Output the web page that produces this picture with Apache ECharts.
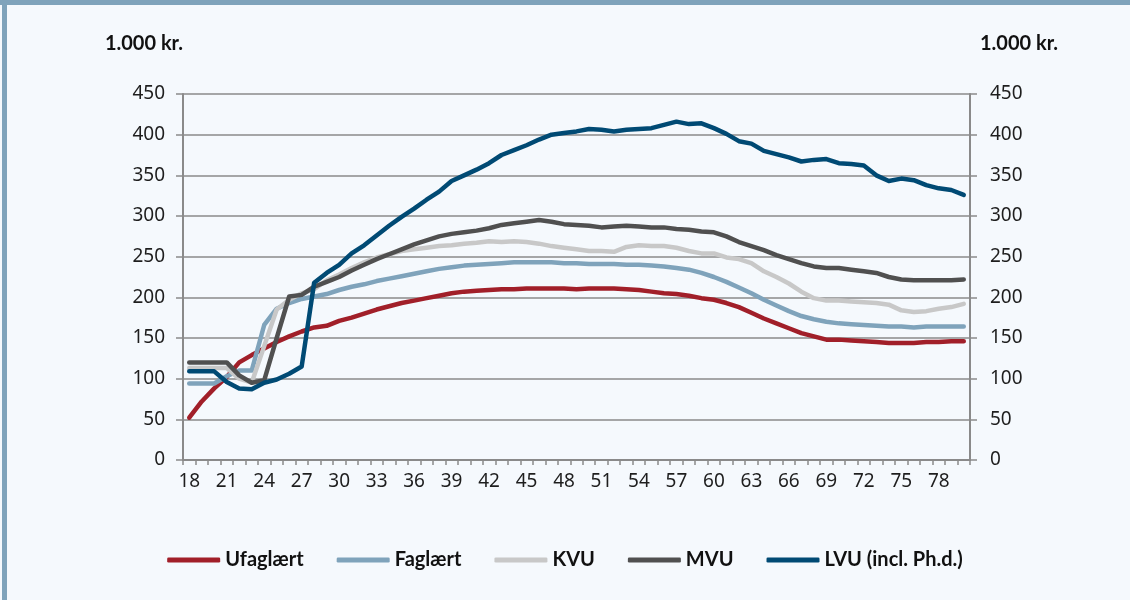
<!DOCTYPE html>
<html>
<head>
<meta charset="utf-8">
<script src="https://cdn.jsdelivr.net/npm/echarts@6/dist/echarts.min.js"></script>
<style>
  html, body { margin: 0; padding: 0; background: #f5f9fd; }
  #chart { width: 1130px; height: 600px; }
</style>
</head>
<body>
<div id="chart"></div>
<script>
// Ages 18..80
const ages = [];
for (let a = 18; a <= 80; a++) ages.push(String(a));

const seriesNames = ['Ufaglært', 'Faglært', 'KVU', 'MVU', 'LVU (incl. Ph.d.)'];
const unitLabel = '1.000 kr.';

const ufaglaert = [52,72,88,102,120,129,137,145,152,158,163,165,171,175,180,185,189,193,196,199,202,205,207,208,209,210,210,211,211,211,211,210,211,211,211,210,209,207,205,204,202,199,197,193,188,181,174,168,162,156,152,148,148,147,146,145,144,144,144,145,145,146,146];
const faglaert = [94,94,94,103,110,110,166,186,193,198,201,204,209,213,216,220,223,226,229,232,235,237,239,240,241,242,243,243,243,243,242,242,241,241,241,240,240,239,238,236,234,230,225,219,212,205,197,190,183,177,173,170,168,167,166,165,164,164,163,164,164,164,164];
const kvu = [113,113,113,113,100,95,140,185,197,205,210,221,228,236,243,249,253,257,259,261,263,264,266,267,269,268,269,268,266,263,261,259,257,257,256,262,264,263,263,261,257,254,254,249,247,242,232,225,217,207,199,196,196,195,194,193,191,184,182,183,186,188,192];
const mvu = [120,120,120,120,104,95,98,150,201,203,213,219,225,233,240,247,253,259,265,270,275,278,280,282,285,289,291,293,295,293,290,289,288,286,287,288,287,286,286,284,283,281,280,275,268,263,258,252,247,242,238,236,236,234,232,230,225,222,221,221,221,221,222];
const lvu = [109,109,109,96,88,87,95,99,106,115,218,230,240,254,264,276,288,299,309,320,330,343,350,357,365,375,381,387,394,400,402,404,407,406,404,406,407,408,412,416,413,414,408,401,392,389,380,376,372,367,369,370,365,364,362,350,343,346,344,338,334,332,326];

const colors = ['#a11f29', '#7fa3bb', '#c8c8c8', '#505050', '#004a74'];
const values = [ufaglaert, faglaert, kvu, mvu, lvu];

const chart = echarts.init(document.getElementById('chart'), null, { renderer: 'canvas' });

const axisGray = '#8a8a8a';
const labelStyle = { fontFamily: 'Noto Sans', fontSize: 19, color: '#1e1e1e' };
const nameStyle = { fontFamily: 'Lato', fontWeight: 'bold', fontSize: 20, color: '#111' };

const option = {
  backgroundColor: '#f5f9fd',
  animation: false,
  color: colors,
  graphic: [
    { type: 'rect', left: 0, top: 0, shape: { width: 1130, height: 5 }, style: { fill: '#7fa3bb' } },
    { type: 'rect', left: 2, top: 0, shape: { width: 5, height: 600 }, style: { fill: '#7fa3bb' } }
  ],
  grid: { left: 183, right: 160, top: 94, bottom: 140, containLabel: false },
  legend: {
    top: 545,
    left: 'center',
    itemWidth: 53,
    itemHeight: 5,
    itemGap: 33,
    icon: 'roundRect',
    data: seriesNames,
    textStyle: { fontFamily: 'Lato', fontWeight: 'bold', fontSize: 20, color: '#111' }
  },
  xAxis: {
    type: 'category',
    data: ages,
    boundaryGap: true,
    axisLine: { lineStyle: { color: axisGray, width: 2 } },
    axisTick: { show: true, interval: 0, length: 5, lineStyle: { color: axisGray, width: 1.5 } },
    axisLabel: Object.assign({ interval: 2, margin: 12 }, labelStyle),
    splitLine: { show: false }
  },
  yAxis: [
    {
      type: 'value', min: 0, max: 450, interval: 50, position: 'left',
      name: unitLabel, nameLocation: 'end', nameGap: 40,
      nameTextStyle: Object.assign({ align: 'right', padding: [0, 0, 0, 0] }, nameStyle),
      axisLine: { show: true, lineStyle: { color: axisGray, width: 2 } },
      axisTick: { show: true, length: 7, lineStyle: { color: axisGray, width: 1.5 } },
      axisLabel: Object.assign({ margin: 18 }, labelStyle),
      splitLine: { show: true, lineStyle: { color: axisGray, width: 1.5 } }
    },
    {
      type: 'value', min: 0, max: 450, interval: 50, position: 'right',
      name: unitLabel, nameLocation: 'end', nameGap: 40,
      nameTextStyle: Object.assign({ align: 'left', padding: [0, 0, 0, 10] }, nameStyle),
      axisLine: { show: true, lineStyle: { color: axisGray, width: 2 } },
      axisTick: { show: true, length: 7, lineStyle: { color: axisGray, width: 1.5 } },
      axisLabel: Object.assign({ margin: 20 }, labelStyle),
      splitLine: { show: false }
    }
  ],
  series: seriesNames.map((name, i) => ({
    name: name,
    type: 'line',
    yAxisIndex: 0,
    data: values[i],
    symbol: 'none',
    smooth: false,
    lineStyle: { width: 4.5, color: colors[i], cap: 'round', join: 'round' },
    itemStyle: { color: colors[i] },
    emphasis: { disabled: true }
  }))
};

chart.setOption(option);
</script>
</body>
</html>
